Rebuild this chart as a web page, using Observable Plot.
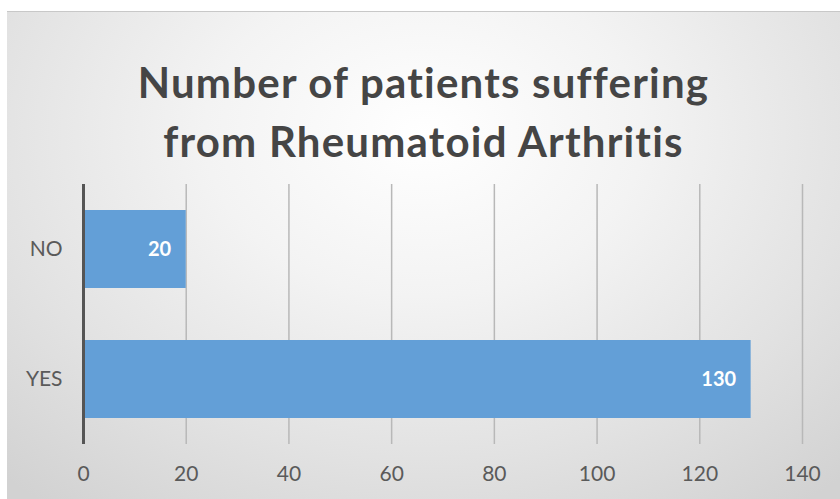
<!DOCTYPE html>
<html>
<head>
<meta charset="utf-8">
<script src="https://cdn.jsdelivr.net/npm/d3@7"></script>
<script src="https://cdn.jsdelivr.net/npm/@observablehq/plot@0.6"></script>
<style>
  html, body { margin: 0; padding: 0; background: #fff; }
  #frame {
    position: absolute; left: 7px; top: 11px; width: 833px; height: 488px;
    background: radial-gradient(ellipse 75% 95% at 50% 25%, #ffffff 0%, #f3f3f3 35%, #e2e2e2 70%, #d2d2d2 100%);
    border-top: 1px solid #c8c8c8;
    overflow: hidden;
  }
  .title {
    position: absolute; left: 0; width: 100%; text-align: center;
    font-family: Lato, "Open Sans", sans-serif; font-weight: bold; font-size: 42px;
    letter-spacing: 1.2px;
    color: #454545; line-height: 1;
  }
  #chart { position: absolute; left: -7px; top: 159px; }
</style>
</head>
<body>
<div id="frame">
  <div class="title" style="top:49px">Number of patients suffering</div>
  <div class="title" style="top:108px">from Rheumatoid Arthritis</div>
  <div id="chart"></div>
</div>
<script>
const categories = ["NO", "YES"];
const values = [20, 130];
const xTicks = [0, 20, 40, 60, 80, 100, 120, 140];

const data = categories.map((c, i) => ({cat: c, value: values[i]}));

const chart = Plot.plot({
  width: 840,
  height: 340,
  marginTop: 13,
  marginBottom: 67,
  marginLeft: 83,
  marginRight: 38,
  style: {background: "transparent", fontFamily: "Lato, sans-serif", color: "#5a5a5a"},
  x: {domain: [0, 140], label: null},
  y: {domain: categories, paddingInner: 0.4, paddingOuter: 0.2, label: null},
  marks: [
    Plot.ruleX(xTicks.filter(d => d > 0), {stroke: "#b8b8b8", strokeWidth: 1.5}),
    Plot.barX(data, {x: "value", y: "cat", fill: "#639fd7"}),
    Plot.ruleX([0], {stroke: "#555555", strokeWidth: 3}),
    Plot.text(data, {x: "value", y: "cat", text: d => String(d.value), textAnchor: "end", dx: -15, fill: "white", fontWeight: "bold", fontSize: 20}),
    Plot.axisX({ticks: xTicks, tickSize: 0, tickPadding: 22, label: null, fontSize: 21, fill: "#5a5a5a"}),
    Plot.axisY({tickSize: 0, tickPadding: 21, label: null, fontSize: 21, fill: "#5a5a5a"})
  ]
});
document.getElementById("chart").appendChild(chart);
</script>
</body>
</html>
